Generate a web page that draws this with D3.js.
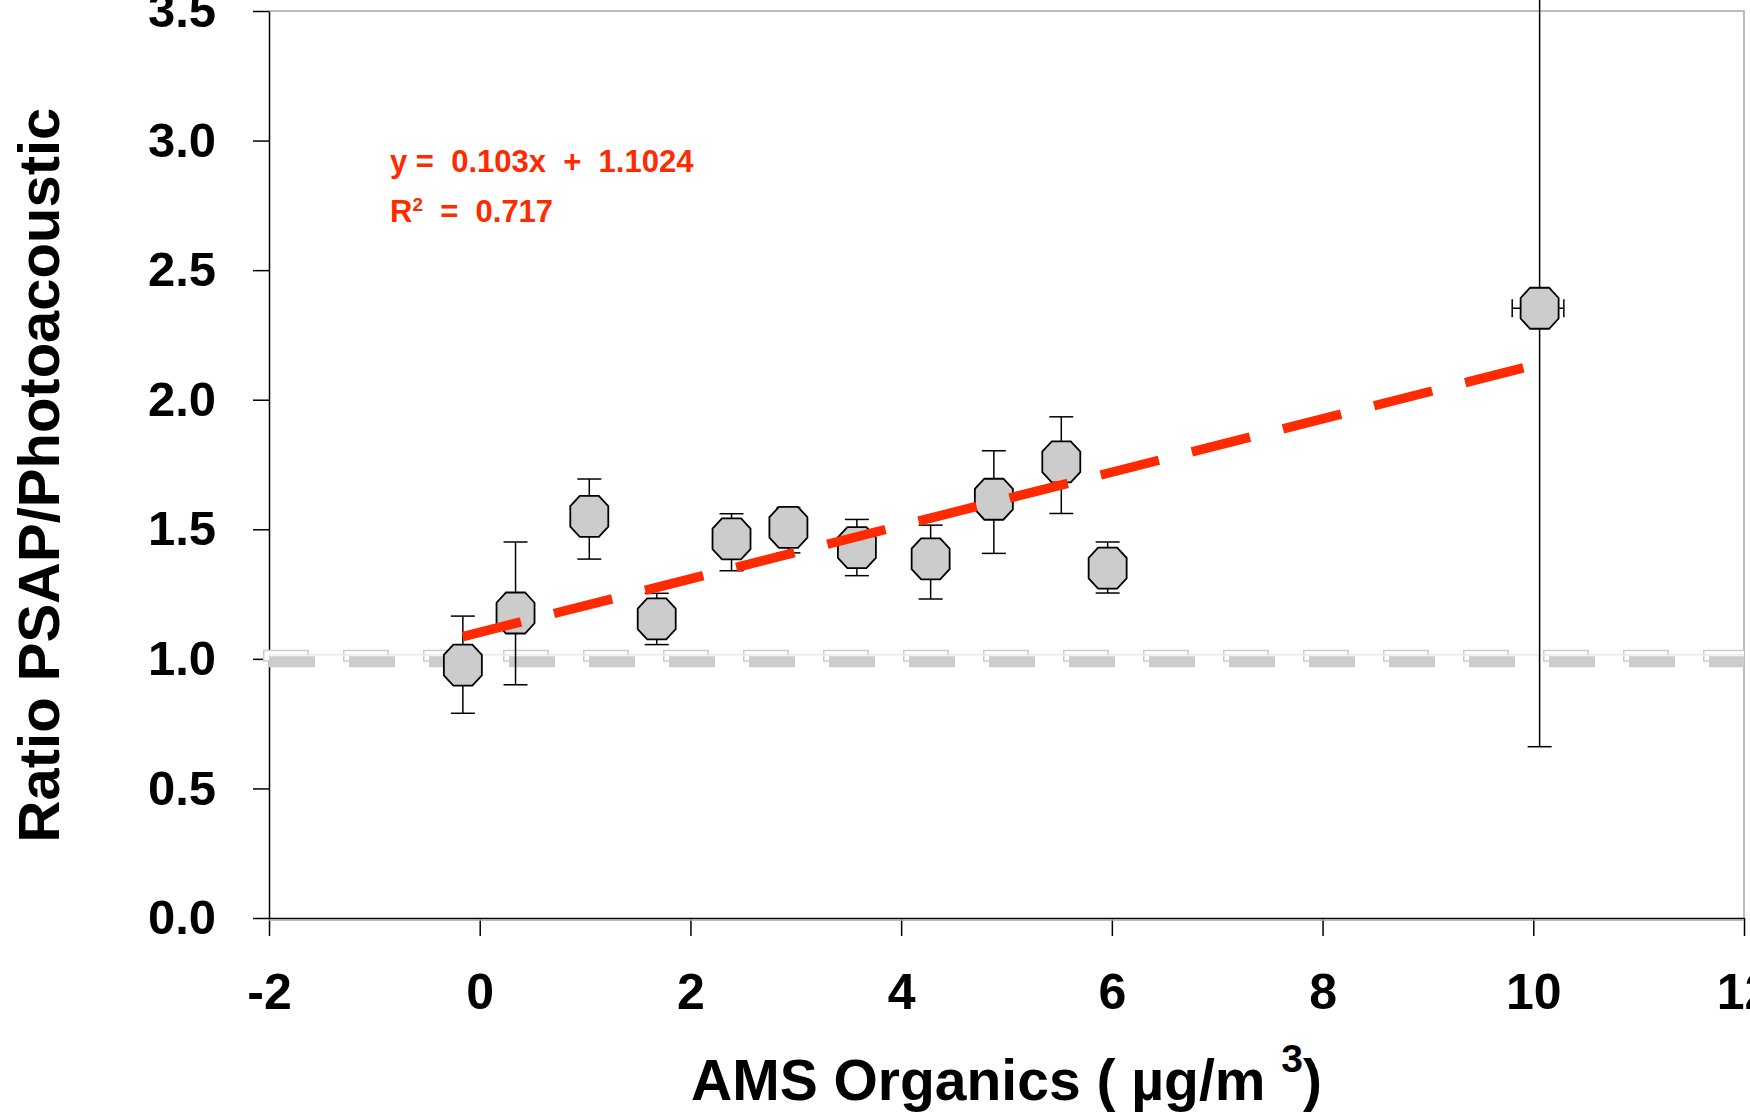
<!DOCTYPE html>
<html>
<head>
<meta charset="utf-8">
<script src="https://cdn.jsdelivr.net/npm/d3@7"></script>
<style>
  body { margin: 0; background: #fff; }
  text { font-family: "Liberation Sans", Arial, sans-serif; font-weight: bold; }
</style>
</head>
<body>
<div id="chart"></div>
<script>
// AMS organics (x) vs ratio PSAP / photoacoustic (y), with error bars
const organics     = [-0.16, 0.34, 1.04, 1.68, 2.39, 2.93, 3.58, 4.28, 4.88, 5.52, 5.96, 10.06];
const organicsLow  = [-0.16, 0.34, 1.04, 1.68, 2.39, 2.93, 3.58, 4.28, 4.88, 5.52, 5.96, 9.80];
const organicsHigh = [-0.16, 0.34, 1.04, 1.68, 2.39, 2.93, 3.58, 4.28, 4.88, 5.52, 5.96, 10.29];
const ratio        = [0.976, 1.177, 1.550, 1.154, 1.463, 1.507, 1.429, 1.386, 1.616, 1.760, 1.350, 2.353];
const ratioLow     = [0.790, 0.900, 1.385, 1.055, 1.340, 1.409, 1.321, 1.231, 1.407, 1.561, 1.254, 0.661];
const ratioHigh    = [1.165, 1.451, 1.694, 1.253, 1.560, 1.584, 1.538, 1.516, 1.803, 1.934, 1.451, 3.600];

const xTicks = [-2, 0, 2, 4, 6, 8, 10, 12];
const yTicks = [0, 0.5, 1.0, 1.5, 2.0, 2.5, 3.0, 3.5];

// linear fit shown on the chart
const fitSlope = 0.103;
const fitIntercept = 1.1024;
const fitR2 = 0.717;
const fitRange = [-0.16, 10.0];

// 1:1 reference ratio
const refRatio = 1.0;

class RatioChart {
    constructor(_config) {
        this.config = {
            parentElement: _config.parentElement,
            containerWidth: _config.containerWidth || 1750,
            containerHeight: _config.containerHeight || 1118,
            margin: _config.margin || {top: 11, right: 5, bottom: 200, left: 269},
        }
        this.data = organics.map((x, i) => ({
            x: x, xLo: organicsLow[i], xHi: organicsHigh[i],
            y: ratio[i], yLo: ratioLow[i], yHi: ratioHigh[i]
        }));
        this.initVis();
    }
    initVis() {
        let vis = this;

        // chart area
        vis.width = vis.config.containerWidth - vis.config.margin.left - vis.config.margin.right - 1;
        vis.height = vis.config.containerHeight - vis.config.margin.top - vis.config.margin.bottom;

        vis.xScale = d3.scaleLinear().domain([-2, 12]).range([0, vis.width]);
        vis.yScale = d3.scaleLinear().domain([0, 3.5]).range([vis.height, 0]);

        vis.svg = d3.select(vis.config.parentElement).append('svg')
            .attr('width', vis.config.containerWidth)
            .attr('height', vis.config.containerHeight)
        vis.visG = vis.svg.append('g')
            .attr('transform', `translate(${vis.config.margin.left},${vis.config.margin.top})`)

        // grey frame on top and right
        vis.visG.append('path')
            .attr('d', `M0,0H${vis.width}V${vis.height}`)
            .attr('fill', 'none')
            .attr('stroke', '#a6a6a6')
            .attr('stroke-width', 1.5)

        vis.xAxis = d3.axisBottom(vis.xScale)
            .tickValues(xTicks)
            .tickFormat(d => String(d))
            .tickSize(18)
            .tickSizeOuter(0)
            .tickPadding(37)
        vis.yAxis = d3.axisLeft(vis.yScale)
            .tickValues(yTicks)
            .tickFormat(d3.format('.1f'))
            .tickSize(16)
            .tickSizeOuter(0)
            .tickPadding(37)

        vis.xAxisG = vis.visG.append('g')
            .attr('transform', `translate(0,${vis.height})`)
        vis.yAxisG = vis.visG.append('g')

        vis.renderVis();
    }
    renderVis() {
        let vis = this;
        const x = vis.xScale, y = vis.yScale;

        // axes
        vis.visG.append('line')
            .attr('x1', 0).attr('x2', vis.width)
            .attr('y1', vis.height + 2).attr('y2', vis.height + 2)
            .attr('stroke', '#a6a6a6').attr('stroke-width', 1.5)
        vis.xAxisG.call(vis.xAxis)
        vis.yAxisG.call(vis.yAxis)
        vis.svg.selectAll('.domain, .tick line').attr('stroke', '#000').attr('stroke-width', 1.5)
        vis.xAxisG.selectAll('text').attr('font-size', 50).attr('fill', '#000')
        vis.yAxisG.selectAll('text').attr('font-size', 49).attr('fill', '#000')

        // reference line at ratio = 1 (light line, hollow dashes, shifted filled dashes)
        const ry = y(refRatio);
        vis.visG.append('line')
            .attr('x1', x(-2) - 6).attr('x2', x(12))
            .attr('y1', ry - 3).attr('y2', ry - 3)
            .attr('stroke', '#cccccc').attr('stroke-width', 12)
            .attr('stroke-dasharray', '46 34')
        vis.visG.append('line')
            .attr('x1', x(-2) - 4.5).attr('x2', x(12))
            .attr('y1', ry - 3).attr('y2', ry - 3)
            .attr('stroke', '#fff').attr('stroke-width', 9)
            .attr('stroke-dasharray', '43 37')
        vis.visG.append('line')
            .attr('x1', x(-2)).attr('x2', x(12))
            .attr('y1', ry - 4).attr('y2', ry - 4)
            .attr('stroke', '#ececec').attr('stroke-width', 1.5)
        vis.visG.append('line')
            .attr('x1', x(-2)).attr('x2', x(12))
            .attr('y1', ry + 3).attr('y2', ry + 3)
            .attr('stroke', '#cccccc').attr('stroke-width', 11)
            .attr('stroke-dasharray', '46 34')

        // error bars
        const eb = vis.visG.append('g').attr('stroke', '#000').attr('stroke-width', 1.5)
        vis.data.forEach(d => {
            eb.append('line')
                .attr('x1', x(d.x)).attr('x2', x(d.x))
                .attr('y1', y(d.yLo)).attr('y2', y(d.yHi))
            ;[d.yLo, d.yHi].forEach(v => {
                eb.append('line')
                    .attr('x1', x(d.x) - 12).attr('x2', x(d.x) + 12)
                    .attr('y1', y(v)).attr('y2', y(v))
            })
            if (d.xHi > d.xLo) {
                eb.append('line')
                    .attr('x1', x(d.xLo)).attr('x2', x(d.xHi))
                    .attr('y1', y(d.y)).attr('y2', y(d.y))
                ;[d.xLo, d.xHi].forEach(v => {
                    eb.append('line')
                        .attr('x1', x(v)).attr('x2', x(v))
                        .attr('y1', y(d.y) - 9).attr('y2', y(d.y) + 9)
                })
            }
        })

        // octagon markers
        const a = 19, b = 20.5;
        const octagon = [[-a / 2, -b], [a / 2, -b], [a, -b / 2], [a, b / 2],
                         [a / 2, b], [-a / 2, b], [-a, b / 2], [-a, -b / 2]];
        vis.visG.selectAll('polygon.pt').data(vis.data)
            .join('polygon')
            .attr('class', 'pt')
            .attr('points', octagon.map(p => p.join(',')).join(' '))
            .attr('transform', d => `translate(${x(d.x)},${y(d.y)})`)
            .attr('fill', '#cccccc')
            .attr('stroke', '#000')
            .attr('stroke-width', 1.8)

        // linear fit
        vis.visG.append('line')
            .attr('x1', x(fitRange[0])).attr('y1', y(fitSlope * fitRange[0] + fitIntercept))
            .attr('x2', x(fitRange[1])).attr('y2', y(fitSlope * fitRange[1] + fitIntercept))
            .attr('stroke', '#ff2a00')
            .attr('stroke-width', 9.5)
            .attr('stroke-dasharray', '60 34')

        // fit equation
        vis.svg.append('text')
            .attr('x', 390).attr('y', 172)
            .attr('font-size', 31).attr('fill', '#ff2a00')
            .style('white-space', 'pre')
            .text(`y =  ${fitSlope}x  +  ${fitIntercept}`)
        const r2 = vis.svg.append('text')
            .attr('x', 390).attr('y', 222)
            .attr('font-size', 31).attr('fill', '#ff2a00')
            .style('white-space', 'pre')
        r2.append('tspan').text('R')
        r2.append('tspan').attr('font-size', 19).attr('dy', -11).text('2')
        r2.append('tspan').attr('dy', 11).text(`  =  ${fitR2}`)

        // axis titles
        const xt = vis.svg.append('text')
            .attr('x', vis.config.margin.left + vis.width / 2)
            .attr('y', 1100)
            .attr('text-anchor', 'middle')
            .attr('font-size', 57).attr('fill', '#000')
            .style('white-space', 'pre')
        xt.append('tspan').text('AMS Organics ( µg/m ')
        xt.append('tspan').attr('font-size', 39).attr('dy', -28).text('3')
        xt.append('tspan').attr('dy', 28).text(')')

        vis.svg.append('text')
            .attr('transform', 'translate(59,475) rotate(-90)')
            .attr('text-anchor', 'middle')
            .attr('font-size', 58).attr('fill', '#000')
            .text('Ratio PSAP/Photoacoustic')
    }
}

const chart = new RatioChart({parentElement: '#chart'});
</script>
</body>
</html>
